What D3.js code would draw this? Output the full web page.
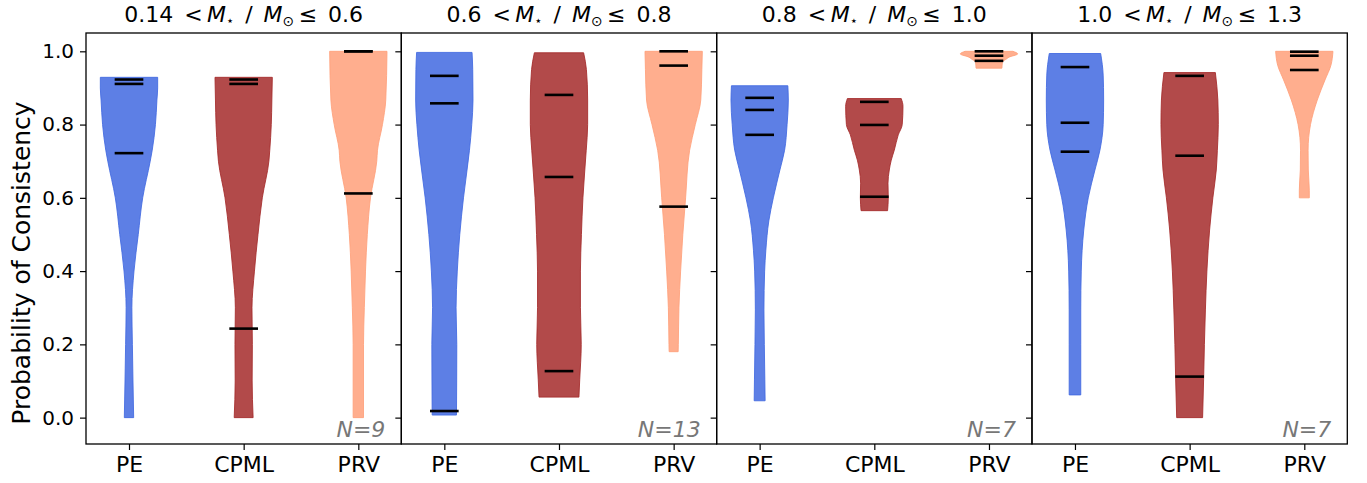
<!DOCTYPE html>
<html>
<head>
<meta charset="utf-8">
<script src="https://cdn.jsdelivr.net/npm/d3@7"></script>
<style>
  html, body { margin: 0; padding: 0; background: #fff; }
  svg { display: block; font-family: "DejaVu Sans", sans-serif; }
</style>
</head>
<body>
<svg id="chart" width="1367" height="483"></svg>
<script>
// ---------------- data ----------------
const massBins = [["0.14", "0.6"], ["0.6", "0.8"], ["0.8", "1.0"], ["1.0", "1.3"]];
const methods = ["PE", "CPML", "PRV"];
const methodColors = ["#4169E1", "#A52A2A", "#FFA07A"];
const sampleSizes = [9, 13, 7, 7];
const yTicks = [0.0, 0.2, 0.4, 0.6, 0.8, 1.0];

// quartiles (Q1, median, Q3) per mass bin
const quartilesPE   = [[0.722, 0.911, 0.923], [0.018, 0.858, 0.933], [0.772, 0.840, 0.873], [0.726, 0.805, 0.957]];
const quartilesCPML = [[0.243, 0.911, 0.923], [0.127, 0.657, 0.881], [0.603, 0.799, 0.862], [0.112, 0.715, 0.933]];
const quartilesPRV  = [[0.612, 1.000, 1.000], [0.576, 0.961, 1.000], [0.974, 0.988, 1.000], [0.949, 0.988, 0.999]];

// violin profiles: [probability, relative density (max = 1)], from top to bottom
const profilesPE = [
  [[0.929,1.0],[0.9,1.0],[0.867,0.974],[0.8,0.922],[0.73,0.81],[0.7,0.74],[0.6,0.477],[0.5,0.323],[0.4,0.174],[0.3,0.10],[0.2,0.118],[0.1,0.139],[0.0,0.163]],
  [[0.997,0.967],[0.95,0.991],[0.867,1.0],[0.8,0.957],[0.73,0.877],[0.6,0.668],[0.5,0.539],[0.4,0.452],[0.3,0.41],[0.2,0.435],[0.1,0.431],[0.007,0.424]],
  [[0.906,0.984],[0.867,1.0],[0.8,0.957],[0.73,0.87],[0.676,0.706],[0.6,0.477],[0.537,0.32],[0.457,0.216],[0.4,0.174],[0.294,0.15],[0.2,0.163],[0.103,0.181],[0.046,0.191]],
  [[0.994,0.897],[0.935,0.984],[0.867,1.0],[0.8,0.984],[0.73,0.87],[0.676,0.696],[0.6,0.463],[0.512,0.306],[0.4,0.219],[0.294,0.202],[0.2,0.202],[0.103,0.202],[0.062,0.202]]
];
const profilesCPML = [
  [[0.929,1.0],[0.867,0.984],[0.8,0.963],[0.73,0.911],[0.7,0.88],[0.6,0.65],[0.5,0.5],[0.4,0.376],[0.3,0.29],[0.2,0.303],[0.1,0.296],[0.0,0.33]],
  [[0.996,0.859],[0.95,0.957],[0.867,1.0],[0.8,1.0],[0.73,0.95],[0.6,0.835],[0.5,0.783],[0.4,0.748],[0.3,0.748],[0.2,0.776],[0.103,0.723],[0.056,0.696]],
  [[0.871,0.94],[0.85,1.0],[0.8,0.974],[0.772,0.835],[0.73,0.696],[0.703,0.591],[0.676,0.522],[0.64,0.477],[0.6,0.487],[0.565,0.463]],
  [[0.942,0.897],[0.867,0.984],[0.8,1.0],[0.73,0.967],[0.676,0.929],[0.6,0.81],[0.512,0.696],[0.4,0.602],[0.294,0.55],[0.2,0.515],[0.103,0.487],[0.0,0.452]]
];
const profilesPRV = [
  [[1.0,1.0],[0.867,0.957],[0.8,0.842],[0.73,0.668],[0.7,0.643],[0.6,0.424],[0.5,0.313],[0.4,0.25],[0.3,0.209],[0.2,0.181],[0.1,0.181],[0.0,0.181]],
  [[1.0,1.0],[0.95,0.984],[0.867,0.946],[0.8,0.755],[0.73,0.557],[0.6,0.417],[0.5,0.32],[0.4,0.243],[0.3,0.184],[0.2,0.163],[0.18,0.157]],
  [[1.0,0.835],[0.993,1.0],[0.984,0.696],[0.979,0.609],[0.971,0.47],[0.954,0.452]],
  [[1.0,1.0],[0.962,0.929],[0.922,0.723],[0.867,0.452],[0.8,0.216],[0.73,0.132],[0.676,0.139],[0.621,0.174],[0.6,0.174]]
];

// ---------------- drawing ----------------
const profiles = [profilesPE, profilesCPML, profilesPRV];
const quartiles = [quartilesPE, quartilesCPML, quartilesPRV];

const svg = d3.select("#chart");
const plotLeft = 86, plotRight = 1347.3, plotTop = 33, plotBottom = 444;
const panelW = (plotRight - plotLeft) / massBins.length;

const y = d3.scaleLinear().domain([-0.072, 1.05]).range([plotBottom, plotTop]);

massBins.forEach((bin, p) => {
  const left = plotLeft + p * panelW;
  const x = d3.scaleLinear().domain([0.625, 3.375]).range([left, left + panelW]);
  const halfW = d3.scaleLinear().domain([0, 1]).range([0, x(1.25) - x(1)]);
  const g = svg.append("g");

  // violins
  methods.forEach((m, i) => {
    const cx = x(i + 1);
    const area = d3.area()
      .curve(d3.curveMonotoneY)
      .y(d => y(d[0]))
      .x0(d => cx - halfW(d[1]))
      .x1(d => cx + halfW(d[1]));
    g.append("path")
      .datum(profiles[i][p])
      .attr("d", area)
      .attr("fill", methodColors[i])
      .attr("fill-opacity", 0.85)
      .attr("stroke", methodColors[i])
      .attr("stroke-opacity", 0.85)
      .attr("stroke-width", 1);
  });

  // quartile lines
  methods.forEach((m, i) => {
    const cx = x(i + 1);
    g.selectAll(null)
      .data(quartiles[i][p])
      .enter().append("line")
      .attr("x1", cx - (x(1.125) - x(1)))
      .attr("x2", cx + (x(1.125) - x(1)))
      .attr("y1", d => y(d))
      .attr("y2", d => y(d))
      .attr("stroke", "#000")
      .attr("stroke-width", 2.6);
  });

  // frame
  g.append("rect")
    .attr("x", left).attr("y", plotTop)
    .attr("width", panelW).attr("height", plotBottom - plotTop)
    .attr("fill", "none").attr("stroke", "#000").attr("stroke-width", 1.3);

  // x axis
  const xAxis = d3.axisBottom(x).tickValues([1, 2, 3]).tickFormat(d => methods[d - 1])
    .tickSizeInner(6).tickSizeOuter(0).tickPadding(6);
  const gx = g.append("g").attr("transform", `translate(0,${plotBottom})`).call(xAxis);
  gx.select(".domain").remove();
  gx.selectAll("line").attr("stroke", "#000").attr("stroke-width", 1.2);
  gx.selectAll("text").attr("font-size", 22).attr("fill", "#000")
    .attr("font-family", "DejaVu Sans");

  // y axis (ticks on every panel, labels only on the first)
  const yAxis = d3.axisLeft(y).tickValues(yTicks)
    .tickFormat(p === 0 ? d3.format(".1f") : () => "")
    .tickSizeInner(6).tickSizeOuter(0).tickPadding(6);
  const gy = g.append("g").attr("transform", `translate(${left},0)`).call(yAxis);
  gy.select(".domain").remove();
  gy.selectAll("line").attr("stroke", "#000").attr("stroke-width", 1.2);
  gy.selectAll("text").attr("font-size", 20).attr("fill", "#000")
    .attr("font-family", "DejaVu Sans");

  // title
  const t = svg.append("text")
    .attr("x", left + panelW / 2).attr("y", 22)
    .attr("text-anchor", "middle")
    .attr("font-size", 22).attr("fill", "#000")
    .style("white-space", "pre");
  t.append("tspan").text(bin[0] + "\u2002<\u2009");
  t.append("tspan").attr("font-style", "italic").text("M");
  t.append("tspan").attr("font-size", 13).attr("dy", 3).text("\u22C6");
  t.append("tspan").attr("dy", -3).text("\u2002/\u2002");
  t.append("tspan").attr("font-style", "italic").text("M");
  t.append("tspan").attr("font-size", 14).attr("dy", 4).text("\u2299");
  t.append("tspan").attr("dy", -4).text("\u2009\u2264\u2002" + bin[1]);

  // sample size
  svg.append("text")
    .attr("x", left + panelW - 16).attr("y", 437)
    .attr("text-anchor", "end")
    .attr("font-size", 22).attr("font-style", "italic")
    .attr("fill", "#777")
    .text("N=" + sampleSizes[p]);
});

// y label
svg.append("text")
  .attr("transform", "translate(30,263) rotate(-90)")
  .attr("text-anchor", "middle")
  .attr("font-size", 25).attr("fill", "#000")
  .text("Probability of Consistency");
</script>
</body>
</html>
